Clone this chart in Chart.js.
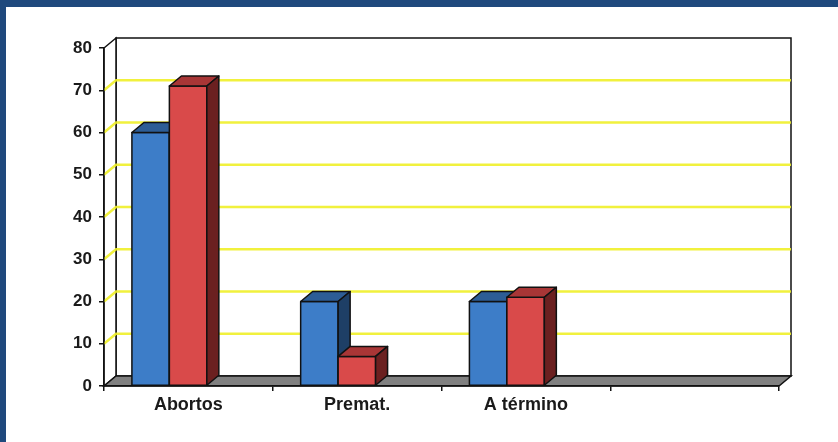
<!DOCTYPE html>
<html>
<head>
<meta charset="utf-8">
<script src="https://cdn.jsdelivr.net/npm/chart.js@4"></script>
<style>
  html, body { margin: 0; padding: 0; background: #1f497d; }
  #marco { position: absolute; left: 6px; top: 7px; width: 832px; height: 435px; background: #fff; }
</style>
</head>
<body>
<div id="marco"><canvas id="grafico" width="832" height="435"></canvas></div>
<script>
// datos
const categorias = ['Abortos', 'Premat.', 'A término', ''];
const serieAzul = [60, 20, 20, null];
const serieRoja = [71, 7, 21, null];
const ejeY = { min: 0, max: 80, paso: 10 };

// profundidad del efecto 3D
const PX = 12, PY = 10;
const DESPLAZA = -19;

const colores = [
  { frente: '#3d7dc8', tapa: '#2d5d96', lado: '#1e3f66' },
  { frente: '#d94a4a', tapa: '#a83636', lado: '#6b2020' }
];

function poligono(ctx, pts, relleno) {
  ctx.beginPath();
  ctx.moveTo(pts[0][0], pts[0][1]);
  for (let i = 1; i < pts.length; i++) ctx.lineTo(pts[i][0], pts[i][1]);
  ctx.closePath();
  if (relleno) { ctx.fillStyle = relleno; ctx.fill(); }
  ctx.stroke();
}

// paredes, piso y lineas de division
const fondo3d = {
  id: 'fondo3d',
  beforeDraw(chart) {
    const ctx = chart.ctx;
    const a = chart.chartArea;
    const y = chart.scales.y;
    ctx.save();
    ctx.strokeStyle = '#111';
    ctx.lineWidth = 1.5;
    // pared del fondo
    poligono(ctx, [[a.left + PX, a.top - PY], [a.right + PX, a.top - PY], [a.right + PX, a.bottom - PY], [a.left + PX, a.bottom - PY]], '#fff');
    // pared lateral
    poligono(ctx, [[a.left, a.top], [a.left + PX, a.top - PY], [a.left + PX, a.bottom - PY], [a.left, a.bottom]], '#fff');
    // lineas amarillas
    ctx.strokeStyle = 'rgba(240,240,40,0.9)';
    ctx.lineWidth = 2.5;
    y.ticks.forEach(t => {
      if (t.value <= ejeY.min || t.value >= ejeY.max) return;
      const py = y.getPixelForValue(t.value);
      ctx.beginPath();
      ctx.moveTo(a.left, py);
      ctx.lineTo(a.left + PX, py - PY);
      ctx.lineTo(a.right + PX, py - PY);
      ctx.stroke();
    });
    // piso
    ctx.strokeStyle = '#111';
    ctx.lineWidth = 1.5;
    poligono(ctx, [[a.left, a.bottom], [a.right, a.bottom], [a.right + PX, a.bottom - PY], [a.left + PX, a.bottom - PY]], '#808080');
    ctx.restore();
  }
};

// barras con tapa y lado
const barras3d = {
  id: 'barras3d',
  afterDatasetsDraw(chart) {
    const ctx = chart.ctx;
    ctx.save();
    ctx.strokeStyle = '#111';
    ctx.lineWidth = 1.5;
    ctx.lineJoin = 'round';
    const n = categorias.length;
    for (let i = 0; i < n; i++) {
      chart.data.datasets.forEach((ds, d) => {
        const el = chart.getDatasetMeta(d).data[i];
        if (ds.data[i] == null || !el) return;
        const c = colores[d];
        const x0 = el.x - el.width / 2 + DESPLAZA;
        const x1 = el.x + el.width / 2 + DESPLAZA;
        const yt = el.y, yb = el.base;
        poligono(ctx, [[x0, yt], [x1, yt], [x1, yb], [x0, yb]], c.frente);
        poligono(ctx, [[x0, yt], [x0 + PX, yt - PY], [x1 + PX, yt - PY], [x1, yt]], c.tapa);
        poligono(ctx, [[x1, yt], [x1 + PX, yt - PY], [x1 + PX, yb - PY], [x1, yb]], c.lado);
      });
    }
    ctx.restore();
  }
};

const fuente = { family: "'Liberation Sans', Arial, sans-serif", weight: 'bold' };

new Chart(document.getElementById('grafico'), {
  type: 'bar',
  data: {
    labels: categorias,
    datasets: [
      { label: 'azul', data: serieAzul, backgroundColor: 'transparent', borderWidth: 0 },
      { label: 'roja', data: serieRoja, backgroundColor: 'transparent', borderWidth: 0 }
    ]
  },
  options: {
    responsive: false,
    animation: false,
    categoryPercentage: 0.444,
    barPercentage: 1,
    layout: { padding: { left: 0, top: 41, right: 59, bottom: 0 } },
    plugins: { legend: { display: false }, tooltip: { enabled: false } },
    scales: {
      x: {
        afterFit: s => { s.height = 56; },
        grid: { drawOnChartArea: false, tickLength: 5, color: '#111', lineWidth: 1.5 },
        border: { display: true, color: '#111', width: 1.5 },
        ticks: { color: '#1a1a1a', padding: 3, font: { ...fuente, size: 18 } }
      },
      y: {
        min: ejeY.min,
        max: ejeY.max,
        afterFit: s => { s.width = 98; },
        grid: { drawOnChartArea: false, tickLength: 5, color: '#111', lineWidth: 1.5 },
        border: { display: true, color: '#111', width: 1.5 },
        ticks: { stepSize: ejeY.paso, color: '#1a1a1a', padding: 7, font: { ...fuente, size: 17 } }
      }
    }
  },
  plugins: [fondo3d, barras3d]
});
</script>
</body>
</html>
